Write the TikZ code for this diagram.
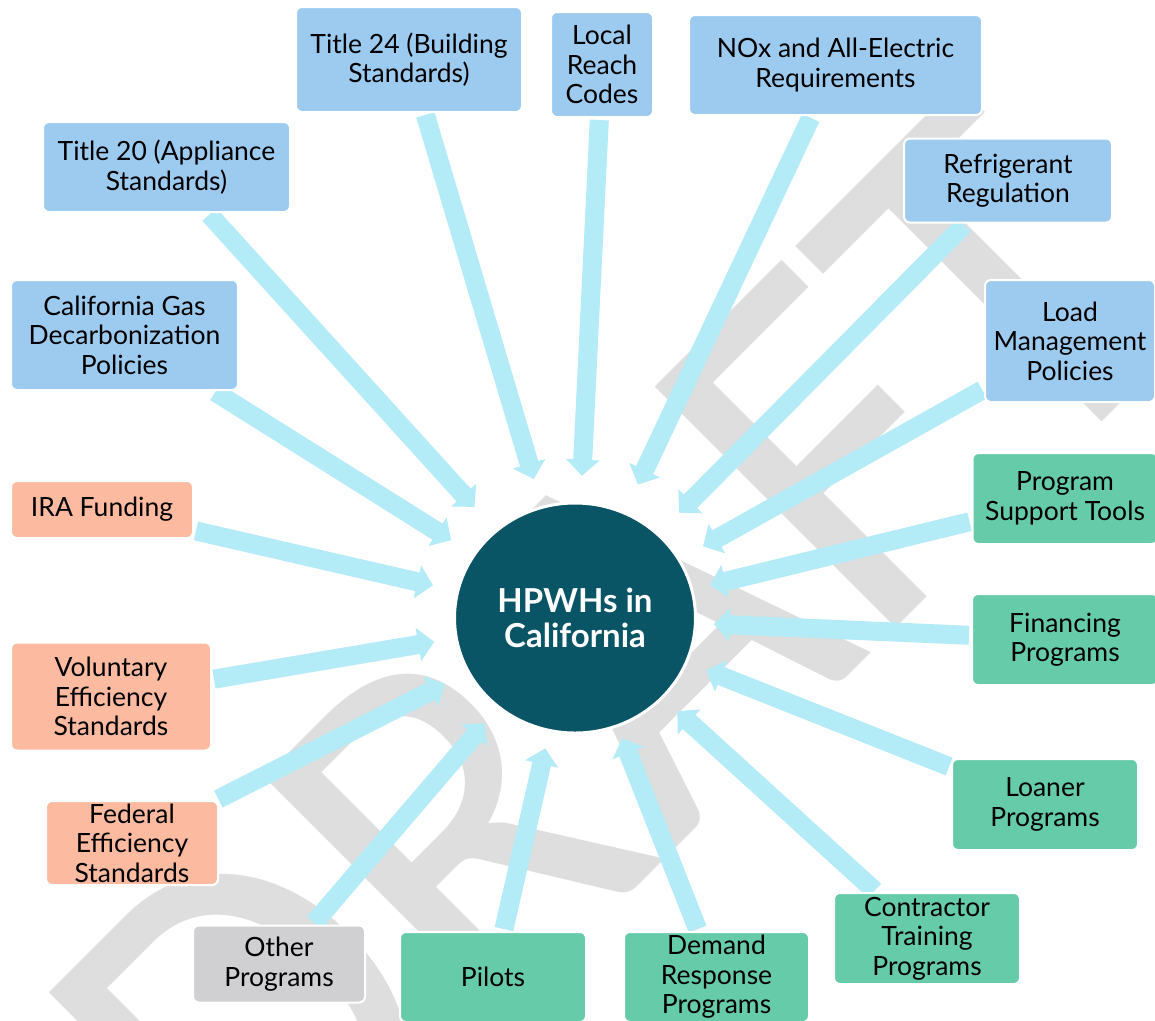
\documentclass[tikz,border=0pt]{standalone}
\usepackage{fontspec}
\setmainfont{Lato}
\newfontfamily\wmfont{Carlito}
\usetikzlibrary{arrows.meta,shapes.geometric}

\definecolor{boxblue}{RGB}{157,203,240}
\definecolor{boxsalmon}{RGB}{252,187,161}
\definecolor{boxgreen}{RGB}{102,203,169}
\definecolor{boxgray}{RGB}{208,207,209}
\definecolor{hubteal}{RGB}{10,85,101}
\definecolor{feedcyan}{RGB}{179,235,247}
\definecolor{wmgray}{RGB}{222,222,222}

\pgfdeclarelayer{back}
\pgfdeclarelayer{background}
\pgfsetlayers{back,background,main}

\tikzset{
  topic/.style={draw=white, line width=2pt, rounded corners=6pt, align=center,
    inner sep=0pt, font=\fontsize{26.5}{29.5}\selectfont},
  boxsize/.style 2 args={minimum width=#1pt, minimum height=#2pt},
  policy/.style={topic, fill=boxblue},
  funding/.style={topic, fill=boxsalmon},
  program/.style={topic, fill=boxgreen},
  misc/.style={topic, fill=boxgray},
  hub/.style={ellipse, fill=hubteal, draw=white, line width=3pt, text=white,
    minimum width=241pt, minimum height=230pt, inner sep=0pt, align=center,
    font=\bfseries\fontsize{33}{35}\selectfont},
  feed/.style={draw=feedcyan, line width=19pt,
    -{Triangle[length=16pt,width=33pt]}, shorten <=2pt},
  wm/.style={text=wmgray, inner sep=0pt, font=\wmfont\fontsize{531}{540}\selectfont}
}

\begin{document}
\begin{tikzpicture}[x=1pt,y=-1pt]
  \useasboundingbox (0,0) rectangle (1155,1020);

  % watermark
  \begin{pgfonlayer}{back}
    \node[wm, anchor=base west, rotate=45, xscale=0.93] (draft) at (266,1258) {DRAFT};
  \end{pgfonlayer}

  % centre
  \node[hub] (hub) at (575,618) {HPWHs in\\California};

  % policies
  \node[policy, boxsize={247}{90}] (t20) at (166.5,167) {Title 20 (Appliance\\Standards)};
  \node[policy, boxsize={226}{105}] (t24) at (409,59.5) {Title 24 (Building\\Standards)};
  \node[policy, boxsize={102}{105}] (reach) at (602,64.5) {Local\\Reach\\Codes};
  \node[policy, boxsize={293}{100}] (nox) at (835.5,65) {NOx and All-Electric\\Requirements};
  \node[policy, boxsize={208}{84}] (refr) at (1008,180.5) {Refrigerant\\Regulation};
  \node[policy, boxsize={227}{110}] (gas) at (124.5,335) {California Gas\\Decarbonization\\Policies};
  \node[policy, boxsize={170}{122}] (load) at (1070,341) {Load\\Management\\Policies};

  % funding and standards
  \node[funding, boxsize={182}{57}] (ira) at (102,509.5) {IRA Funding};
  \node[funding, boxsize={200}{108}] (vol) at (111,696.5) {Voluntary\\Efficiency\\Standards};
  \node[funding, boxsize={172}{84}] (fed) at (132,843) {Federal\\Efficiency\\Standards};

  % programs
  \node[program, boxsize={185}{91}] (pst) at (1065,498.5) {Program\\Support Tools};
  \node[program, boxsize={186}{91}] (fin) at (1065,639.5) {Financing\\Programs};
  \node[program, boxsize={186}{91}] (loan) at (1045,804.5) {Loaner\\Programs};
  \node[program, boxsize={186}{91}] (ctr) at (927,938.5) {Contractor\\Training\\Programs};
  \node[program, boxsize={186}{90}] (pil) at (493,977) {Pilots};
  \node[program, boxsize={185}{90}] (dr) at (716.5,977) {Demand\\Response\\Programs};
  \node[misc, boxsize={172}{77}] (oth) at (279,964) {Other\\Programs};

  % arrows into the hub
  \begin{pgfonlayer}{background}
    \foreach \src/\gap in {t20/31, t24/28, reach/26, nox/30, refr/29, load/26,
        gas/26, ira/24, vol/21, fed/25, oth/20, pil/17, dr/12, ctr/19,
        loan/20, fin/17, pst/17}
      \draw[feed, shorten >=\gap pt] (\src) -- (hub);
  \end{pgfonlayer}
\end{tikzpicture}
\end{document}
